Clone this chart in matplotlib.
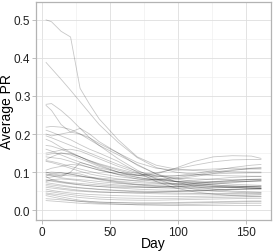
import matplotlib
matplotlib.use("Agg")
import matplotlib.pyplot as plt
from matplotlib.ticker import MultipleLocator

# sampling days shared by every subject
days = [3, 7, 14, 21, 28, 35, 42, 56, 70, 84, 98, 112, 126, 140, 154, 161]

# subjects starting high (PR > 0.15)
high_start = [
    [0.500, 0.495, 0.470, 0.455, 0.320, 0.278, 0.240, 0.185, 0.140, 0.118, 0.108, 0.104, 0.102, 0.101, 0.100, 0.100],
    [0.388, 0.372, 0.344, 0.315, 0.285, 0.255, 0.225, 0.178, 0.138, 0.112, 0.100, 0.094, 0.091, 0.090, 0.089, 0.089],
    [0.278, 0.280, 0.262, 0.240, 0.215, 0.190, 0.170, 0.135, 0.105, 0.082, 0.065, 0.055, 0.050, 0.047, 0.045, 0.045],
    [0.275, 0.262, 0.225, 0.205, 0.200, 0.190, 0.175, 0.150, 0.125, 0.110, 0.105, 0.106, 0.108, 0.110, 0.110, 0.110],
    [0.218, 0.220, 0.218, 0.212, 0.200, 0.185, 0.170, 0.145, 0.120, 0.095, 0.075, 0.062, 0.055, 0.050, 0.048, 0.047],
    [0.210, 0.205, 0.195, 0.185, 0.172, 0.160, 0.150, 0.128, 0.100, 0.075, 0.058, 0.048, 0.042, 0.038, 0.036, 0.036],
    [0.200, 0.195, 0.200, 0.205, 0.215, 0.200, 0.180, 0.150, 0.118, 0.095, 0.082, 0.075, 0.071, 0.068, 0.066, 0.065],
    [0.195, 0.190, 0.180, 0.170, 0.160, 0.150, 0.140, 0.120, 0.102, 0.090, 0.084, 0.082, 0.081, 0.080, 0.080, 0.080],
    [0.186, 0.180, 0.165, 0.152, 0.140, 0.128, 0.118, 0.100, 0.086, 0.078, 0.075, 0.078, 0.082, 0.086, 0.088, 0.088],
    [0.170, 0.168, 0.160, 0.150, 0.140, 0.130, 0.122, 0.108, 0.096, 0.090, 0.090, 0.092, 0.095, 0.097, 0.098, 0.098],
    [0.160, 0.155, 0.145, 0.135, 0.126, 0.118, 0.111, 0.100, 0.092, 0.088, 0.090, 0.096, 0.104, 0.112, 0.118, 0.120],
]

# subjects starting in the middle (0.08 - 0.15)
mid_start = [
    [0.150, 0.152, 0.158, 0.160, 0.155, 0.145, 0.135, 0.115, 0.098, 0.085, 0.076, 0.070, 0.066, 0.064, 0.062, 0.061],
    [0.145, 0.148, 0.150, 0.145, 0.135, 0.125, 0.115, 0.100, 0.090, 0.095, 0.110, 0.128, 0.140, 0.143, 0.142, 0.136],
    [0.140, 0.138, 0.135, 0.128, 0.120, 0.112, 0.105, 0.095, 0.092, 0.098, 0.108, 0.118, 0.127, 0.132, 0.133, 0.133],
    [0.133, 0.140, 0.150, 0.148, 0.140, 0.130, 0.120, 0.105, 0.092, 0.082, 0.075, 0.070, 0.066, 0.063, 0.061, 0.060],
    [0.130, 0.128, 0.122, 0.115, 0.108, 0.102, 0.096, 0.088, 0.082, 0.080, 0.082, 0.088, 0.096, 0.104, 0.110, 0.112],
    [0.128, 0.125, 0.118, 0.110, 0.102, 0.095, 0.090, 0.082, 0.076, 0.072, 0.068, 0.065, 0.062, 0.060, 0.058, 0.057],
    [0.105, 0.110, 0.115, 0.120, 0.118, 0.112, 0.105, 0.094, 0.086, 0.080, 0.076, 0.074, 0.074, 0.075, 0.076, 0.076],
    [0.100, 0.095, 0.092, 0.090, 0.088, 0.086, 0.084, 0.080, 0.078, 0.080, 0.085, 0.092, 0.100, 0.106, 0.108, 0.108],
    [0.098, 0.100, 0.098, 0.094, 0.090, 0.086, 0.082, 0.076, 0.072, 0.070, 0.070, 0.072, 0.075, 0.078, 0.080, 0.080],
    [0.095, 0.092, 0.088, 0.100, 0.125, 0.118, 0.108, 0.093, 0.082, 0.075, 0.070, 0.066, 0.063, 0.060, 0.058, 0.057],
    [0.093, 0.090, 0.085, 0.082, 0.080, 0.078, 0.075, 0.070, 0.067, 0.066, 0.067, 0.070, 0.074, 0.078, 0.081, 0.082],
    [0.090, 0.095, 0.098, 0.095, 0.090, 0.085, 0.080, 0.072, 0.066, 0.062, 0.060, 0.060, 0.061, 0.062, 0.063, 0.063],
    [0.088, 0.080, 0.075, 0.072, 0.070, 0.068, 0.066, 0.063, 0.061, 0.060, 0.061, 0.064, 0.068, 0.072, 0.076, 0.078],
    [0.085, 0.087, 0.092, 0.098, 0.095, 0.088, 0.082, 0.074, 0.068, 0.064, 0.062, 0.061, 0.060, 0.059, 0.058, 0.058],
]

# subjects starting low (PR < 0.08)
low_start = [
    [0.080, 0.078, 0.074, 0.070, 0.067, 0.064, 0.062, 0.058, 0.055, 0.053, 0.052, 0.052, 0.053, 0.054, 0.055, 0.055],
    [0.078, 0.076, 0.072, 0.069, 0.066, 0.064, 0.062, 0.060, 0.059, 0.060, 0.063, 0.067, 0.071, 0.074, 0.076, 0.077],
    [0.075, 0.080, 0.082, 0.080, 0.077, 0.073, 0.070, 0.066, 0.062, 0.059, 0.057, 0.057, 0.058, 0.060, 0.062, 0.063],
    [0.072, 0.070, 0.066, 0.062, 0.059, 0.057, 0.055, 0.052, 0.050, 0.049, 0.049, 0.050, 0.052, 0.054, 0.056, 0.057],
    [0.068, 0.066, 0.063, 0.060, 0.058, 0.056, 0.054, 0.051, 0.048, 0.046, 0.045, 0.044, 0.044, 0.044, 0.045, 0.045],
    [0.064, 0.062, 0.058, 0.055, 0.052, 0.050, 0.048, 0.046, 0.044, 0.043, 0.042, 0.042, 0.042, 0.042, 0.042, 0.042],
    [0.060, 0.058, 0.055, 0.052, 0.050, 0.048, 0.047, 0.046, 0.046, 0.047, 0.049, 0.051, 0.053, 0.055, 0.056, 0.056],
    [0.055, 0.052, 0.048, 0.045, 0.043, 0.041, 0.040, 0.038, 0.037, 0.036, 0.036, 0.036, 0.037, 0.038, 0.039, 0.040],
    [0.050, 0.048, 0.044, 0.041, 0.038, 0.036, 0.034, 0.032, 0.031, 0.031, 0.031, 0.032, 0.033, 0.034, 0.035, 0.035],
    [0.045, 0.043, 0.040, 0.036, 0.033, 0.031, 0.029, 0.027, 0.026, 0.026, 0.027, 0.028, 0.029, 0.030, 0.031, 0.031],
    [0.042, 0.040, 0.035, 0.030, 0.026, 0.023, 0.021, 0.019, 0.018, 0.018, 0.018, 0.019, 0.020, 0.021, 0.022, 0.022],
    [0.038, 0.035, 0.030, 0.026, 0.023, 0.020, 0.018, 0.016, 0.014, 0.013, 0.012, 0.012, 0.012, 0.012, 0.012, 0.012],
    [0.030, 0.029, 0.027, 0.025, 0.023, 0.022, 0.021, 0.020, 0.019, 0.019, 0.020, 0.021, 0.022, 0.023, 0.024, 0.024],
    [0.025, 0.024, 0.022, 0.020, 0.018, 0.017, 0.016, 0.015, 0.014, 0.014, 0.014, 0.015, 0.016, 0.017, 0.018, 0.018],
]

x_ticks = [0, 50, 100, 150]
y_ticks = [0.0, 0.1, 0.2, 0.3, 0.4, 0.5]

plt.rcParams["font.family"] = ["Liberation Sans", "DejaVu Sans"]

fig = plt.figure(figsize=(2.75, 2.53), dpi=100)
ax = fig.add_axes([0.131, 0.1265, 0.8545, 0.8617])

for series in high_start + mid_start + low_start:
    ax.plot(days, series, color="black", alpha=0.22, linewidth=0.6)

# theme_light look
ax.set_xlim(-4.4, 168.4)
ax.set_ylim(-0.026, 0.547)
ax.set_xticks(x_ticks)
ax.set_yticks(y_ticks)
ax.set_yticklabels([f"{v:.1f}" for v in y_ticks])
ax.xaxis.set_minor_locator(MultipleLocator(25))
ax.yaxis.set_minor_locator(MultipleLocator(0.05))
ax.grid(which="major", color="#dedede", linewidth=0.6)
ax.grid(which="minor", color="#ededed", linewidth=0.4)
ax.set_axisbelow(True)
for spine in ax.spines.values():
    spine.set_color("#b3b3b3")
    spine.set_linewidth(0.9)
ax.tick_params(which="major", length=3, width=0.6, color="#b3b3b3",
               labelsize=8.5, labelcolor="#222222", pad=1)
ax.tick_params(which="minor", length=0)

ax.set_xlabel("Day", fontsize=10)
ax.set_ylabel("Average PR", fontsize=10)
ax.xaxis.set_label_coords(0.5, -0.072, transform=ax.transAxes)
ax.yaxis.set_label_coords(-0.093, 0.5, transform=ax.transAxes)

fig.savefig("out.png", dpi=100)
